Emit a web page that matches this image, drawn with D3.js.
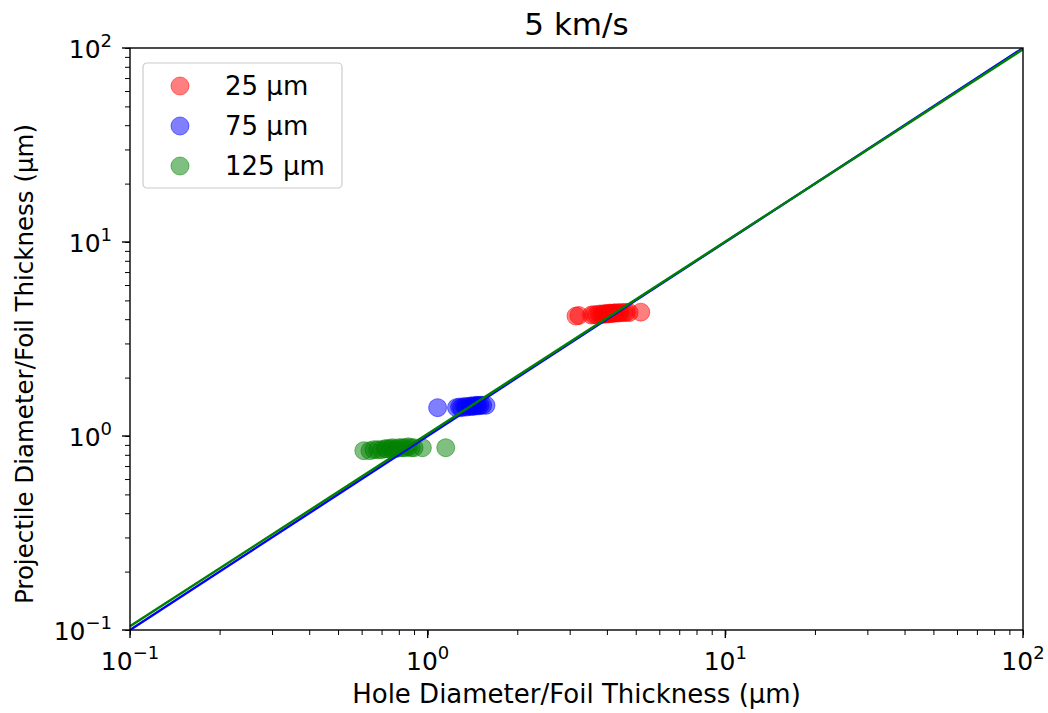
<!DOCTYPE html>
<html>
<head>
<meta charset="utf-8">
<script src="https://cdn.jsdelivr.net/npm/d3@7"></script>
<style>
body { margin: 0; background: #fff; }
text { font-family: "DejaVu Sans", sans-serif; fill: #000; }
</style>
</head>
<body>
<div id="chart"></div>
<script>
var width = 1048;
var height = 713;

// data
var series = ["25 µm", "75 µm", "125 µm"];
var colors = ["#ff0000", "#0000ff", "#008000"];

var red_x = [3.15, 3.22, 3.55, 3.62, 3.7, 3.78, 3.85, 3.9, 3.95, 4.0, 4.05, 4.1, 4.15, 4.2, 4.25, 4.3, 4.38, 4.45, 4.55, 4.65, 4.75, 5.2];
var red_y = [4.15, 4.18, 4.2, 4.22, 4.22, 4.25, 4.23, 4.27, 4.25, 4.28, 4.26, 4.3, 4.28, 4.3, 4.3, 4.32, 4.3, 4.33, 4.32, 4.34, 4.33, 4.35];
var blue_x = [1.08, 1.25, 1.28, 1.3, 1.33, 1.35, 1.38, 1.4, 1.42, 1.44, 1.46, 1.48, 1.5, 1.53, 1.57];
var blue_y = [1.40, 1.40, 1.41, 1.40, 1.42, 1.41, 1.42, 1.43, 1.42, 1.43, 1.44, 1.43, 1.44, 1.44, 1.44];
var green_x = [0.61, 0.64, 0.66, 0.68, 0.7, 0.72, 0.73, 0.75, 0.76, 0.78, 0.8, 0.82, 0.84, 0.86, 0.88, 0.9, 0.96, 1.15];
var green_y = [0.84, 0.84, 0.85, 0.85, 0.85, 0.86, 0.86, 0.86, 0.87, 0.86, 0.87, 0.87, 0.87, 0.88, 0.87, 0.87, 0.87, 0.87];

var fit_x = [0.1, 100];
var blue_fit = [0.1, 100];
var green_fit = [0.1045, 98.5];

var ticks = [0.1, 1, 10, 100];
var tick_exp = ["\u22121", "0", "1", "2"];

var margin = {left: 130, right: 25, top: 48, bottom: 83};

var svg = d3.select("#chart").append("svg")
  .attr("width", width)
  .attr("height", height);

var x = d3.scaleLog().domain([0.1, 100]).range([margin.left, width - margin.right]);
var y = d3.scaleLog().domain([0.1, 100]).range([height - margin.bottom, margin.top]);

svg.append("clipPath").attr("id", "clip")
  .append("rect")
  .attr("x", margin.left).attr("y", margin.top)
  .attr("width", width - margin.left - margin.right)
  .attr("height", height - margin.top - margin.bottom);

var plot = svg.append("g").attr("clip-path", "url(#clip)");

function pts(xs, ys) { return xs.map(function(d, i) { return [d, ys[i]]; }); }

var groups = [pts(red_x, red_y), pts(blue_x, blue_y), pts(green_x, green_y)];

groups.forEach(function(g, i) {
  plot.append("g").selectAll("circle")
    .data(g)
    .enter().append("circle")
    .attr("cx", function(d) { return x(d[0]); })
    .attr("cy", function(d) { return y(d[1]); })
    .attr("r", 9)
    .attr("fill", colors[i])
    .attr("fill-opacity", 0.5)
    .attr("stroke", colors[i])
    .attr("stroke-opacity", 0.5)
    .attr("stroke-width", 1);
});

var line = d3.line()
  .x(function(d) { return x(d[0]); })
  .y(function(d) { return y(d[1]); });

plot.append("path")
  .attr("d", line(pts(fit_x, blue_fit)))
  .attr("stroke", "#0000ff").attr("stroke-width", 2.4).attr("fill", "none");
plot.append("path")
  .attr("d", line(pts(fit_x, green_fit)))
  .attr("stroke", "#008000").attr("stroke-width", 2.4).attr("fill", "none");

// minor ticks
var xAxis = d3.axisBottom(x).tickValues(x.ticks()).tickFormat("").tickSize(5);
var yAxis = d3.axisLeft(y).tickValues(y.ticks()).tickFormat("").tickSize(5);

var gx = svg.append("g").attr("transform", "translate(0," + (height - margin.bottom) + ")").call(xAxis);
var gy = svg.append("g").attr("transform", "translate(" + margin.left + ",0)").call(yAxis);

[gx, gy].forEach(function(g) {
  g.select(".domain").remove();
  g.selectAll(".tick line").attr("stroke", "#000").attr("stroke-width", 1);
});

// major ticks and labels
ticks.forEach(function(t, i) {
  svg.append("line")
    .attr("x1", x(t)).attr("x2", x(t))
    .attr("y1", height - margin.bottom).attr("y2", height - margin.bottom + 8)
    .attr("stroke", "#000").attr("stroke-width", 1.4);
  svg.append("line")
    .attr("y1", y(t)).attr("y2", y(t))
    .attr("x1", margin.left).attr("x2", margin.left - 8)
    .attr("stroke", "#000").attr("stroke-width", 1.4);

  var tx = svg.append("text")
    .attr("x", x(t)).attr("y", 670)
    .attr("text-anchor", "middle")
    .attr("font-size", 25);
  tx.append("tspan").text("10");
  tx.append("tspan").attr("dy", -11).attr("font-size", 18).text(tick_exp[i]);

  var ty = svg.append("text")
    .attr("x", margin.left - 18).attr("y", y(t) + 10)
    .attr("text-anchor", "end")
    .attr("font-size", 25);
  ty.append("tspan").text("10");
  ty.append("tspan").attr("dy", -11).attr("font-size", 18).text(tick_exp[i]);
});

// frame
svg.append("rect")
  .attr("x", margin.left).attr("y", margin.top)
  .attr("width", width - margin.left - margin.right)
  .attr("height", height - margin.top - margin.bottom)
  .attr("fill", "none").attr("stroke", "#000").attr("stroke-width", 1.4);

// title and labels
svg.append("text")
  .attr("x", (margin.left + width - margin.right) / 2).attr("y", 35)
  .attr("text-anchor", "middle").attr("font-size", 31)
  .text("5 km/s");

svg.append("text")
  .attr("x", (margin.left + width - margin.right) / 2).attr("y", 703)
  .attr("text-anchor", "middle").attr("font-size", 26)
  .text("Hole Diameter/Foil Thickness (µm)");

svg.append("text")
  .attr("transform", "translate(33,364) rotate(-90)")
  .attr("text-anchor", "middle").attr("font-size", 24.5)
  .text("Projectile Diameter/Foil Thickness (µm)");

// legend
var lg = svg.append("g").attr("transform", "translate(143,63)");
lg.append("rect")
  .attr("width", 199).attr("height", 125).attr("rx", 4)
  .attr("fill", "#fff").attr("fill-opacity", 0.8)
  .attr("stroke", "#ccc").attr("stroke-width", 1.2);

series.forEach(function(s, i) {
  lg.append("circle")
    .attr("cx", 37).attr("cy", 23 + i * 40).attr("r", 9)
    .attr("fill", colors[i]).attr("fill-opacity", 0.5)
    .attr("stroke", colors[i]).attr("stroke-opacity", 0.5);
  lg.append("text")
    .attr("x", 82).attr("y", 32 + i * 40)
    .attr("font-size", 26)
    .text(s);
});
</script>
</body>
</html>
